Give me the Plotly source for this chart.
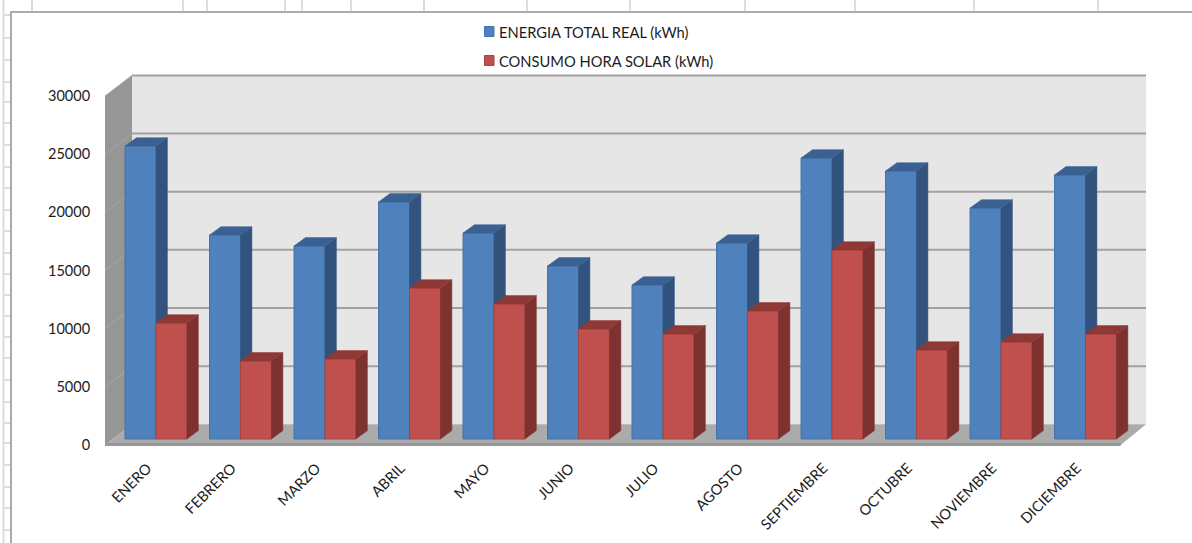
import plotly.graph_objects as go

months = ["ENERO", "FEBRERO", "MARZO", "ABRIL", "MAYO", "JUNIO", "JULIO",
          "AGOSTO", "SEPTIEMBRE", "OCTUBRE", "NOVIEMBRE", "DICIEMBRE"]
energia_total = [25190, 17540, 16600, 20380, 17710, 14880, 13240, 16850, 24160, 23040, 19860, 22700]
consumo_solar = [9970, 6710, 6880, 12980, 11610, 9460, 9030, 11010, 16250, 7650, 8340, 9030]
series_names = ["ENERGIA TOTAL REAL (kWh)", "CONSUMO HORA SOLAR (kWh)"]
y_ticks = [0, 5000, 10000, 15000, 20000, 25000, 30000]

FONT = "Lato"
TEXT = "#1c1c1c"

# Page and plot-area geometry
W, H = 1192, 543
PL, PR, PT, PB = 105, 1148, 70, 447
X_RANGE = [-0.5, 11.843]
Y_RANGE = [-172, 32244]

# Fake 3D projection, in axis units
WALL_DX, WALL_DY = 0.30, 1780     # depth of the floor and the side wall
BAR_BASE = 516                    # bars stand a little behind the front edge
BAR_DX, BAR_DY = 0.135, 720       # depth of each bar
BAR_W = 0.3665
BLUE_OFF, RED_OFF = -0.263, 0.1035
FRONT_RIGHT = 11.52


def px(x):
    return (x - PL) / (PR - PL)


def py(y):
    return (PB - y) / (PB - PT)


def box_faces(values, offset):
    """Side and top polygons of each bar, as None-separated outlines."""
    sx, sy, tx, ty = [], [], [], []
    for i, v in enumerate(values):
        x1 = i + offset
        x2 = x1 + BAR_W
        top = BAR_BASE + v
        sx += [x2, x2 + BAR_DX, x2 + BAR_DX, x2, x2, None]
        sy += [BAR_BASE, BAR_BASE + BAR_DY, top + BAR_DY, top, BAR_BASE, None]
        tx += [x1, x1 + BAR_DX, x2 + BAR_DX, x2, x1, None]
        ty += [top, top + BAR_DY, top + BAR_DY, top, top, None]
    return sx, sy, tx, ty


def poly(points):
    return "M" + "L".join(f"{x},{y}" for x, y in points) + "Z"


fig = go.Figure()


def add_series(values, offset, name, front, edge, side, top, xa, ya):
    sx, sy, tx, ty = box_faces(values, offset)
    for fx, fy, color in ((sx, sy, side), (tx, ty, top)):
        fig.add_trace(go.Scatter(x=fx, y=fy, mode="lines", fill="toself", fillcolor=color,
                                 line=dict(color=color, width=0.5), hoverinfo="skip",
                                 showlegend=False, xaxis=xa, yaxis=ya))
    fig.add_trace(go.Bar(x=list(range(len(values))), y=values, base=BAR_BASE, offset=offset,
                         width=BAR_W, name=name, showlegend=False,
                         marker=dict(color=front, line=dict(color=edge, width=1)),
                         xaxis=xa, yaxis=ya))


# Each series sits on its own overlay so the red bars cover the blue side faces
add_series(energia_total, BLUE_OFF, series_names[0], "#4f81bd", "#4673a8", "#33537f", "#3a6192", "x2", "y2")
add_series(consumo_solar, RED_OFF, series_names[1], "#c0504d", "#a44441", "#7e3230", "#8e3936", "x3", "y3")

shapes = []

# Worksheet grid behind the chart object
GRID = "#dcdcdc"
for x in [32, 183, 207, 285, 302, 351, 424, 527, 630, 745, 855, 974, 1098]:
    shapes.append(dict(type="line", xref="paper", yref="paper", x0=px(x), x1=px(x), y0=py(0), y1=py(12),
                       line=dict(color=GRID, width=2), layer="below"))
for y in [15, 38, 60, 82, 102, 123, 145, 167, 188, 210, 231, 253, 274, 295, 316, 337, 358,
          380, 402, 423, 443, 465, 487, 508, 530]:
    shapes.append(dict(type="line", xref="paper", yref="paper", x0=px(3), x1=px(11), y0=py(y), y1=py(y),
                       line=dict(color=GRID, width=2), layer="below"))
shapes.append(dict(type="line", xref="paper", yref="paper", x0=px(3.5), x1=px(3.5), y0=py(0), y1=py(H),
                   line=dict(color=GRID, width=2), layer="below"))

# Chart frame
FRAME = "#ababab"
shapes.append(dict(type="line", xref="paper", yref="paper", x0=px(11), x1=px(11), y0=py(12), y1=py(H),
                   line=dict(color=FRAME, width=2), layer="below"))
shapes.append(dict(type="line", xref="paper", yref="paper", x0=px(10), x1=px(W), y0=py(12), y1=py(12),
                   line=dict(color=FRAME, width=2), layer="below"))

# Back wall, side wall and floor
left = X_RANGE[0]
back_left = left + 0.3195
back_right = FRONT_RIGHT + WALL_DX
top_front = y_ticks[-1]
shapes.append(dict(type="path", xref="x", yref="y", layer="below", line=dict(width=0), fillcolor="#e6e6e6",
                   path=poly([(back_left, WALL_DY), (back_right, WALL_DY),
                              (back_right, top_front + WALL_DY), (back_left, top_front + WALL_DY)])))
shapes.append(dict(type="path", xref="x", yref="y", layer="below", line=dict(width=0), fillcolor="#969696",
                   path=poly([(left, 0), (back_left, WALL_DY), (back_left, top_front + WALL_DY), (left, top_front)])))
shapes.append(dict(type="path", xref="x", yref="y", layer="below", line=dict(width=0), fillcolor="#ababab",
                   path=poly([(left, 0), (FRONT_RIGHT, 0), (back_right, WALL_DY), (back_left, WALL_DY)])))
shapes.append(dict(type="line", xref="x", yref="y", layer="below", x0=left, x1=FRONT_RIGHT, y0=40, y1=40,
                   line=dict(color="#979797", width=3)))

for v in y_ticks[1:]:
    shapes.append(dict(type="line", xref="x", yref="y", layer="below",
                       x0=back_left, x1=back_right, y0=v + WALL_DY, y1=v + WALL_DY,
                       line=dict(color="#a2a2a2", width=2)))
    shapes.append(dict(type="line", xref="x", yref="y", layer="below",
                       x0=left, x1=back_left, y0=v, y1=v + WALL_DY,
                       line=dict(color="#a6a6a6", width=1)))

# Legend: small swatch close to its label
annotations = []
for name, color, edge, yc in zip(series_names, ["#4f81bd", "#c0504d"], ["#4673a8", "#a44441"], [31.5, 60.5]):
    shapes.append(dict(type="rect", xref="paper", yref="paper", x0=px(484.5), x1=px(494),
                       y0=py(yc - 5), y1=py(yc + 5), fillcolor=color, line=dict(color=edge, width=1)))
    annotations.append(dict(text=name, xref="paper", yref="paper", x=px(496.5), y=py(yc),
                            xanchor="left", yanchor="middle", showarrow=False,
                            font=dict(family=FONT, size=14.7, color=TEXT)))

fig.update_layout(
    width=W, height=H,
    margin=dict(l=PL, r=W - PR, t=PT, b=H - PB, pad=0),
    template="none",
    paper_bgcolor="white",
    plot_bgcolor="rgba(0,0,0,0)",
    showlegend=False,
    shapes=shapes,
    annotations=annotations,
    font=dict(family=FONT, size=14, color=TEXT),
    xaxis=dict(range=X_RANGE, tickmode="array", tickvals=list(range(len(months))), ticktext=months,
               tickangle=-45, ticks="outside", ticklen=6, tickcolor="rgba(0,0,0,0)",
               showgrid=False, zeroline=False, showline=False,
               tickfont=dict(family=FONT, size=14.6, color=TEXT)),
    yaxis=dict(range=Y_RANGE, tickmode="array", tickvals=y_ticks, ticktext=[str(v) for v in y_ticks],
               ticks="outside", ticklen=11, tickcolor="rgba(0,0,0,0)",
               showgrid=False, zeroline=False, showline=False,
               tickfont=dict(family=FONT, size=14.5, color=TEXT)),
    xaxis2=dict(range=X_RANGE, overlaying="x", visible=False),
    yaxis2=dict(range=Y_RANGE, overlaying="y", visible=False),
    xaxis3=dict(range=X_RANGE, overlaying="x", visible=False),
    yaxis3=dict(range=Y_RANGE, overlaying="y", visible=False),
)

fig.write_html("out.html")
